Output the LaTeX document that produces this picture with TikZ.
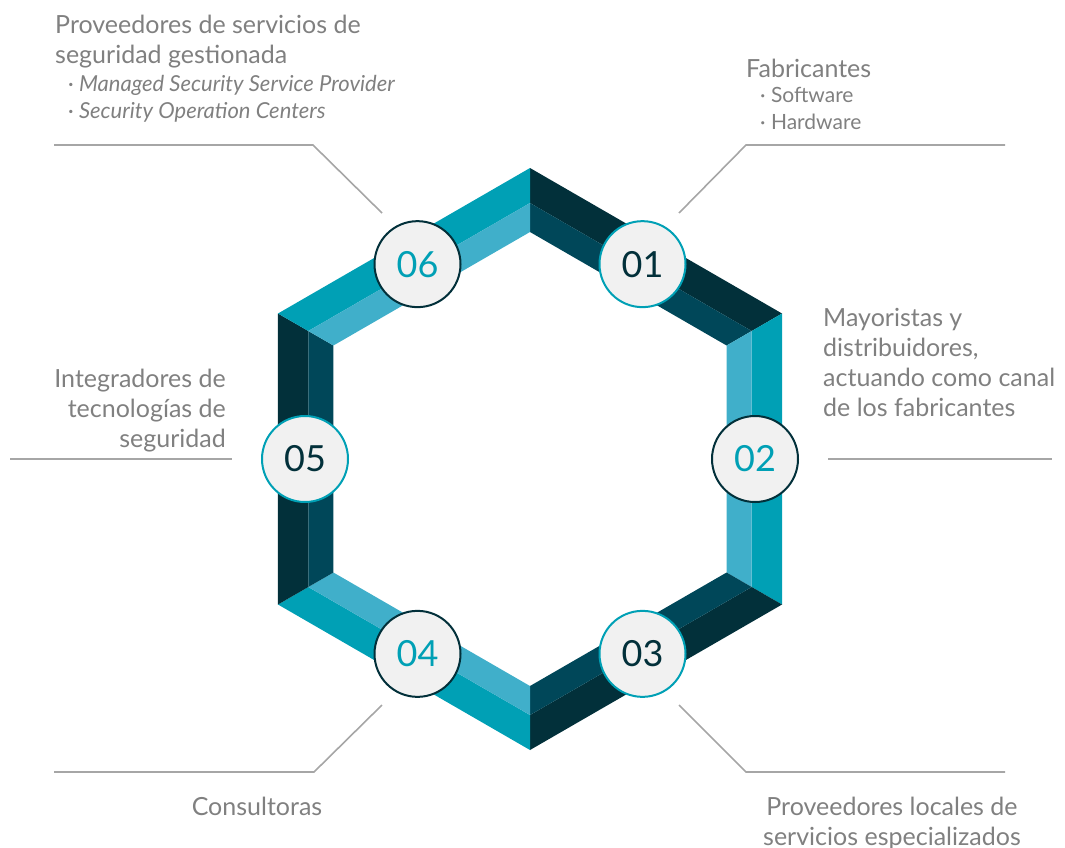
\documentclass[tikz,border=0pt]{standalone}
\usepackage{fontspec}
\setmainfont{Lato}
\usetikzlibrary{positioning}

\definecolor{tealA}{RGB}{0,160,181}
\definecolor{tealB}{RGB}{64,175,202}
\definecolor{darkA}{RGB}{2,48,58}
\definecolor{darkB}{RGB}{0,71,89}
\definecolor{circfill}{RGB}{241,241,241}
\definecolor{labelgray}{RGB}{128,128,128}
\definecolor{linegray}{RGB}{166,166,166}

\begin{document}
\begin{tikzpicture}[x=1pt,y=-1pt,
    num/.style={circle, fill=circfill, line width=2pt, minimum size=86pt, inner sep=0pt,
                font=\fontsize{36}{36}\selectfont},
    numlight/.style={num, draw=tealA, text=darkA},
    numdark/.style={num, draw=darkA, text=tealA},
    lbl/.style={text=labelgray, inner sep=0pt, font=\fontsize{25}{30}\selectfont},
    sublbl/.style={text=labelgray, inner sep=0pt, font=\fontsize{21}{27}\selectfont},
    leader/.style={draw=linegray, line width=1.6pt}]

    \useasboundingbox (0,0) rectangle (1065,847);

    % hexagon, six bevelled sides
    \begin{scope}[shift={(530,459)}]
        \foreach \a/\b/\outc/\inc in {-90/-30/darkA/darkB, -30/30/tealA/tealB,
                                      30/90/darkA/darkB, 90/150/tealA/tealB,
                                      150/210/darkA/darkB, 210/270/tealA/tealB}
        {
            \fill[\outc] (\a:291) -- (\b:291) -- (\b:256) -- (\a:256) -- cycle;
            \fill[\inc]  (\a:256) -- (\b:256) -- (\b:227) -- (\a:227) -- cycle;
        }

        \node[numlight] (n1) at (-60:225) {01};
        \node[numdark]  (n2) at (0:225)   {02};
        \node[numlight] (n3) at (60:225)  {03};
        \node[numdark]  (n4) at (120:225) {04};
        \node[numlight] (n5) at (180:225) {05};
        \node[numdark]  (n6) at (240:225) {06};
    \end{scope}

    % labels (base = last line)
    \node[lbl, anchor=base west, align=left] (t6) at (55,63)
        {Proveedores de servicios de\\seguridad gestionada};
    \node[sublbl, anchor=base west, align=left, font=\fontsize{22}{27}\itshape] (t6s) at (68,118)
        {· Managed Security Service Provider\\· Security Operation Centers};
    \node[lbl, anchor=base west] (t1) at (746,77) {Fabricantes};
    \node[sublbl, anchor=base west, align=left, font=\fontsize{21}{27}\selectfont] (t1s) at (760,129)
        {· Software\\· Hardware};
    \node[lbl, anchor=base west, align=left] (t2) at (823,416)
        {Mayoristas y\\distribuidores,\\actuando como canal\\de los fabricantes};
    \node[lbl, anchor=base east, align=right] (t5) at (226,447)
        {Integradores de\\tecnologías de\\seguridad};
    \node[lbl, anchor=base] (t4) at (257,815) {Consultoras};
    \node[lbl, anchor=base, align=center] (t3) at (892,845)
        {Proveedores locales de\\servicios especializados};

    % leader lines
    \coordinate (l6a) at (54,145);   \coordinate (l6b) at (313,145);  \coordinate (l6c) at (382,213);
    \coordinate (l1a) at (1005,145); \coordinate (l1b) at (746,145);  \coordinate (l1c) at (679,213);
    \coordinate (l2a) at (828,459);  \coordinate (l2b) at (1052,459);
    \coordinate (l5a) at (10,459);   \coordinate (l5b) at (232,459);
    \coordinate (l4a) at (54,772);   \coordinate (l4b) at (314,772);  \coordinate (l4c) at (382,705);
    \coordinate (l3a) at (1005,772); \coordinate (l3b) at (746,772);  \coordinate (l3c) at (679,705);

    \draw[leader] (l6a) -- (l6b) -- (l6c);
    \draw[leader] (l1a) -- (l1b) -- (l1c);
    \draw[leader] (l2a) -- (l2b);
    \draw[leader] (l5a) -- (l5b);
    \draw[leader] (l4a) -- (l4b) -- (l4c);
    \draw[leader] (l3a) -- (l3b) -- (l3c);
\end{tikzpicture}
\end{document}
